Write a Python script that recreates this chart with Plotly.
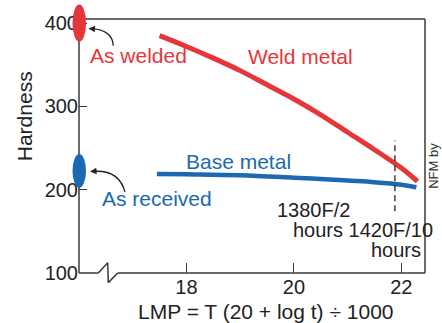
import plotly.graph_objects as go

# ---- data ----
weld_lmp = [17.5, 18.0, 18.5, 19.0, 19.5, 20.0, 20.5, 21.0, 21.5, 22.0, 22.3]
weld_hard = [385, 372, 358, 343, 326, 309, 290, 269, 248, 226, 210]
base_lmp = [17.45, 18.0, 19.0, 20.0, 20.5, 21.0, 21.5, 22.0, 22.28]
base_hard = [219, 218.5, 217.3, 214.5, 213, 211, 209, 206, 203]
x_ticks = [18, 20, 22]
y_ticks = [100, 200, 300, 400]
dash_lmp = 21.88
dash_hard = [174, 259]

RED = "#E5363B"
BLUE = "#1A69B1"
INK = "#3a3a3a"
FONT = "Liberation Sans, Arial, sans-serif"

W, H = 442, 323
PL, PR, PT, PB = 79, 425, 17, 273


def xp(px):
    return (px - PL) / (PR - PL)


def yp(py):
    return (PB - py) / (PB - PT)


fig = go.Figure()
fig.add_trace(go.Scatter(x=weld_lmp, y=weld_hard, mode="lines",
                         line=dict(color=RED, width=5, shape="spline"),
                         hoverinfo="skip", showlegend=False))
fig.add_trace(go.Scatter(x=base_lmp, y=base_hard, mode="lines",
                         line=dict(color=BLUE, width=4.5, shape="spline"),
                         hoverinfo="skip", showlegend=False))

shapes = []


def seg(a, b, c, d):
    shapes.append(dict(type="line", xref="paper", yref="paper",
                       x0=xp(a), y0=yp(b), x1=xp(c), y1=yp(d),
                       line=dict(color=INK, width=1.5), layer="above"))


# frame with axis break on bottom
pts = [(PL, PB), (98.3, PB), (107.7, 262.7), (108.3, 282.7),
       (117.7, PB), (PR, PB)]
for (a, b), (c, d) in zip(pts[:-1], pts[1:]):
    seg(a, b, c, d)
seg(PL, PT, PL, PB)
seg(PL, PT, PR, PT)
seg(PR, PT, PR, PB)

# dashed reference line
shapes.append(dict(type="line", xref="x", yref="y", x0=dash_lmp, x1=dash_lmp,
                   y0=dash_hard[0], y1=dash_hard[1],
                   line=dict(color="#222", width=1.3, dash="6px,4px")))
# ellipses
shapes.append(dict(type="circle", xref="paper", yref="paper",
                   x0=xp(72.5), x1=xp(86), y0=yp(40), y1=yp(2.5),
                   fillcolor=RED, line=dict(width=0), layer="above"))
shapes.append(dict(type="circle", xref="paper", yref="paper",
                   x0=xp(72.5), x1=xp(86), y0=yp(187), y1=yp(153),
                   fillcolor=BLUE, line=dict(width=0), layer="above"))


def curve(p0, c, p2):
    return (f"M {xp(p0[0]):.5f},{yp(p0[1]):.5f} Q {xp(c[0]):.5f},{yp(c[1]):.5f} "
            f"{xp(p2[0]):.5f},{yp(p2[1]):.5f}")


shapes.append(dict(type="path", xref="paper", yref="paper",
                   path=curve((113.3, 44), (112.5, 28.4), (92, 26.8)),
                   line=dict(color="#222", width=1.3), layer="above"))
shapes.append(dict(type="path", xref="paper", yref="paper",
                   path=curve((125, 191.5), (119.1, 168.8), (93.5, 170.6)),
                   line=dict(color="#222", width=1.3), layer="above"))

ann = []


def txt(s, x, y, color, size, xanchor="center", angle=0):
    ann.append(dict(text=s, x=xp(x), y=yp(y), xref="paper", yref="paper",
                    xanchor=xanchor, yanchor="middle", showarrow=False,
                    textangle=angle,
                    font=dict(family=FONT, size=size, color=color)))


txt("As welded", 138.5, 54, RED, 21)
txt("Weld metal", 300.5, 55, RED, 21)
txt("Base metal", 238.5, 160.5, BLUE, 21)
txt("As received", 156.5, 197.5, BLUE, 21)
txt("1380F/2", 313, 210, "#222", 20)
txt("hours 1420F/10", 291, 230, "#222", 20, xanchor="left")
txt("hours", 396, 250, "#222", 20)
txt("NFM by", 434, 165, "#333", 13, angle=-90)
txt("Hardness", 24, 115, "#222", 21, angle=-90)
txt("LMP = T (20 + log t) \u00f7 1000", 266, 312, "#222", 21)

# arrowheads
for head, off in [((88.5, 26.7), (8, 0.6)), ((90, 170.7), (8, -0.5))]:
    ann.append(dict(x=xp(head[0]), y=yp(head[1]), xref="paper", yref="paper",
                    ax=off[0], ay=off[1], text="", showarrow=True,
                    arrowhead=2, arrowsize=1, arrowwidth=1.3,
                    arrowcolor="#222", standoff=0))

fig.update_layout(
    width=W, height=H,
    margin=dict(l=PL, r=W - PR, t=PT, b=H - PB, pad=0),
    paper_bgcolor="white", plot_bgcolor="white",
    shapes=shapes, annotations=ann,
    font=dict(family=FONT, size=20, color="#222"),
    xaxis=dict(range=[16.0, 22.44], tickvals=x_ticks, ticks="inside",
               ticklen=10, tickwidth=1.3, tickcolor=INK, showgrid=False,
               zeroline=False, showline=False,
               tickfont=dict(family=FONT, size=20, color="#222")),
    yaxis=dict(range=[100, 405], tickvals=y_ticks, ticks="inside",
               ticklen=8, tickwidth=1.3, tickcolor=INK, showgrid=False,
               zeroline=False, showline=False,
               tickfont=dict(family=FONT, size=20, color="#222")),
)

fig.write_html("out.html", config={"displayModeBar": False},
               post_script="document.body.style.margin='0';"
                           "document.body.style.overflow='hidden';")
